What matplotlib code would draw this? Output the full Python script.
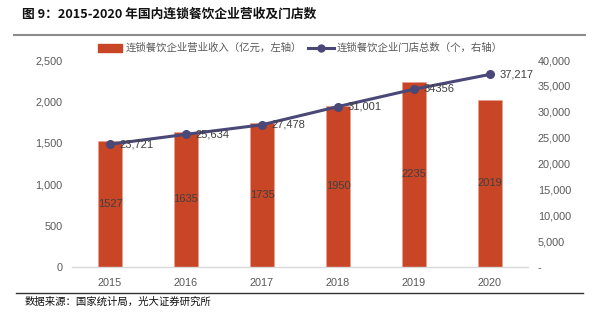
import matplotlib
matplotlib.use("Agg")
import matplotlib.pyplot as plt
from matplotlib.lines import Line2D
from matplotlib.patches import Rectangle
from matplotlib.ticker import FuncFormatter

plt.rcParams["font.family"] = ["Liberation Sans", "Noto Sans CJK SC"]

# ---- data ----
years = ["2015", "2016", "2017", "2018", "2019", "2020"]
revenue = [1527, 1635, 1735, 1950, 2235, 2019]            # 亿元, left axis
stores = [23721, 25634, 27478, 31001, 34356, 37217]       # 个, right axis
store_labels = ["23,721", "25,634", "27,478", "31,001", "34356", "37,217"]

TITLE = "图 9：2015-2020 年国内连锁餐饮企业营收及门店数"
SOURCE = "数据来源：国家统计局，光大证券研究所"
BAR_NAME = "连锁餐饮企业营业收入（亿元，左轴）"
LINE_NAME = "连锁餐饮企业门店总数（个，右轴）"

BAR_C = "#C84526"
LINE_C = "#4A4878"
TICK_C = "#595959"
CJK = ["Noto Sans CJK SC", "DejaVu Sans"]

fig = plt.figure(figsize=(5.93, 3.23), dpi=100)
ax = fig.add_axes([72 / 593, 1 - 267 / 323, (528 - 72) / 593, (267 - 60) / 323])
ax2 = ax.twinx()

x = list(range(len(years)))
ax.bar(x, revenue, width=0.32, color=BAR_C, edgecolor="#E8A090", linewidth=0.4, zorder=2)
for xi, v in zip(x, revenue):
    ax.text(xi, v / 2, str(v), ha="center", va="center", fontsize=8, color="#404040", zorder=3)

ax2.plot(x, stores, color=LINE_C, lw=2.2, marker="o", ms=5.5, zorder=4)
for xi, v, lab in zip(x, stores, store_labels):
    ax2.text(xi + 0.12, v, lab, ha="left", va="center", fontsize=8, color="#404040", zorder=5)

ax.set_xlim(-0.5, 5.5)
ax.set_ylim(0, 2500)
ax2.set_ylim(0, 40000)
ax.set_yticks(range(0, 2501, 500))
ax2.set_yticks(range(0, 40001, 5000))
ax.yaxis.set_major_formatter(FuncFormatter(lambda v, p: f"{v:,.0f}"))
ax2.yaxis.set_major_formatter(FuncFormatter(lambda v, p: "-" if v == 0 else f"{v:,.0f}"))
ax.set_xticks(x)
ax.set_xticklabels(years)

for a in (ax, ax2):
    for s in a.spines.values():
        s.set_visible(False)
    a.tick_params(length=0, labelsize=7.8, labelcolor=TICK_C)
ax.spines["bottom"].set_visible(True)
ax.spines["bottom"].set_color("#D9D9D9")
ax.spines["bottom"].set_linewidth(1.0)
ax.tick_params(axis="y", pad=7)
ax.tick_params(axis="x", pad=8)
ax2.tick_params(axis="y", pad=7)

# legend drawn in figure coordinates
W, H = 593, 323
fig.patches.append(Rectangle((98 / W, 1 - 52 / H), 24 / W, 8 / H, transform=fig.transFigure,
                             color=BAR_C, figure=fig))
fig.text(126 / W, 1 - 48 / H, BAR_NAME, ha="left", va="center", fontsize=7.5,
         color=TICK_C, family=CJK)
fig.lines.append(Line2D([308 / W, 334 / W], [1 - 48 / H] * 2, transform=fig.transFigure,
                        color=LINE_C, lw=2.2, figure=fig))
fig.lines.append(Line2D([321 / W], [1 - 48 / H], transform=fig.transFigure, color=LINE_C,
                        marker="o", ms=5, figure=fig))
fig.text(337 / W, 1 - 48 / H, LINE_NAME, ha="left", va="center", fontsize=7.5,
         color=TICK_C, family=CJK)

# title, rules and source
fig.text(22 / W, 1 - 14 / H, TITLE, ha="left", va="center", fontsize=9.2,
         fontweight="bold", color="#111111", family=CJK)
fig.lines.append(Line2D([14 / W, 585 / W], [1 - 35 / H] * 2, transform=fig.transFigure,
                        color="#8C8C8C", lw=1.5, figure=fig))
fig.lines.append(Line2D([16 / W, 583 / W], [1 - 293 / H] * 2, transform=fig.transFigure,
                        color="#333333", lw=1.0, figure=fig))
fig.text(25 / W, 1 - 302 / H, SOURCE, ha="left", va="center", fontsize=7.5,
         color="#111111", family=CJK)

fig.savefig("out.png", dpi=100)
